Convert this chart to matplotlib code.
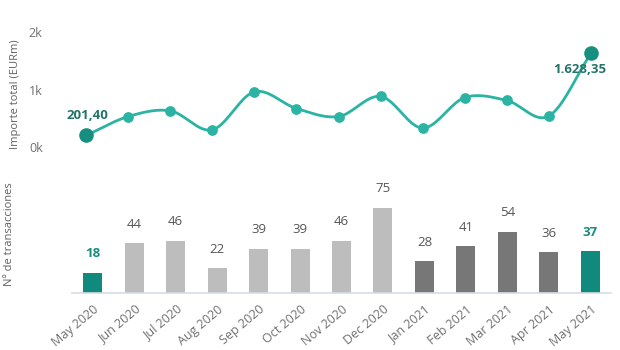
import numpy as np
import matplotlib
matplotlib.use("Agg")
from matplotlib import pyplot as plt

plt.rcParams["font.family"] = ["Open Sans", "DejaVu Sans"]

meses = ["May 2020", "Jun 2020", "Jul 2020", "Aug 2020", "Sep 2020", "Oct 2020",
         "Nov 2020", "Dec 2020", "Jan 2021", "Feb 2021", "Mar 2021", "Apr 2021", "May 2021"]
importe = [201.40, 530, 630, 300, 960, 670, 530, 880, 330, 860, 810, 540, 1628.35]
transacciones = [18, 44, 46, 22, 39, 39, 46, 75, 28, 41, 54, 36, 37]
colores_barras = ["#118a7e"] + ["#bdbdbd"] * 7 + ["#777777"] * 4 + ["#118a7e"]

TEAL = "#2bb3a3"
TEAL_OSC = "#168f80"
GRIS = "#707070"


def suavizar(x, y, n=20):  # catmull-rom para que la linea quede curva
    x = np.asarray(x, float)
    y = np.asarray(y, float)
    px = np.concatenate([[2 * x[0] - x[1]], x, [2 * x[-1] - x[-2]]])
    py = np.concatenate([[2 * y[0] - y[1]], y, [2 * y[-1] - y[-2]]])
    xs, ys = [], []
    t = np.linspace(0, 1, n)
    for i in range(1, len(px) - 2):
        for p, out in ((px, xs), (py, ys)):
            p0, p1, p2, p3 = p[i - 1], p[i], p[i + 1], p[i + 2]
            out.extend(0.5 * ((2 * p1) + (-p0 + p2) * t + (2 * p0 - 5 * p1 + 4 * p2 - p3) * t ** 2
                              + (-p0 + 3 * p1 - 3 * p2 + p3) * t ** 3))
    return np.array(xs), np.array(ys)


fig = plt.figure(figsize=(6.2, 3.5), dpi=100)

# linea superior
ax1 = fig.add_axes([65 / 620, 0.557, 547 / 620, 0.386])
idx = np.arange(len(meses))
sx, sy = suavizar(idx, importe)
ax1.plot(sx, sy, color=TEAL, lw=2, zorder=2)
ax1.scatter(idx[1:-1], importe[1:-1], s=45, color=TEAL, zorder=3)
ax1.scatter([idx[0], idx[-1]], [importe[0], importe[-1]], s=90, color=TEAL_OSC, zorder=4)
ax1.set_xlim(-0.5, len(meses) - 0.5)
ax1.set_ylim(-139, 2209)
ax1.set_yticks([0, 1000, 2000])
ax1.set_yticklabels(["0k", "1k", "2k"])
ax1.set_xticks([])
for s in ax1.spines.values():
    s.set_visible(False)
ax1.tick_params(axis="y", length=0, labelsize=9, labelcolor=GRIS, pad=16)
ax1.set_ylabel("Importe total (EURm)", fontsize=8, color="#606060")
ax1.annotate("201,40", (idx[0], importe[0]), xytext=(-14, 10), textcoords="offset points",
             fontsize=9.5, fontweight="bold", color="#23756c", ha="left", va="bottom")
ax1.annotate("1.628,35", (idx[-1], importe[-1]), xytext=(-27, -7), textcoords="offset points",
             fontsize=9.5, fontweight="bold", color="#23756c", ha="left", va="top")

# barras inferiores
ax2 = fig.add_axes([72 / 620, 57 / 350, 539 / 620, 118 / 350])
barras = ax2.bar(idx, transacciones, width=0.46, color=colores_barras, zorder=2)
ax2.set_xlim(-0.5, len(meses) - 0.5)
ax2.set_ylim(0, 104)
for i, (b, v) in enumerate(zip(barras, transacciones)):
    destacado = i == 0 or i == len(meses) - 1
    ax2.text(b.get_x() + b.get_width() / 2, v + 11, str(v), ha="center", va="bottom",
             fontsize=9.5, color=TEAL_OSC if destacado else "#555555",
             fontweight="bold" if destacado else "normal")
for s in ["top", "right", "left"]:
    ax2.spines[s].set_visible(False)
ax2.spines["bottom"].set_color("#d5dde3")
ax2.spines["bottom"].set_linewidth(1.2)
ax2.set_yticks([])
ax2.set_xticks(idx)
ax2.set_xticklabels(meses, rotation=40, ha="right", rotation_mode="anchor")
ax2.tick_params(axis="x", length=0, labelsize=9, labelcolor=GRIS, pad=7)
ax2.set_ylabel("Nº de transacciones", fontsize=8, color="#606060")
ax2.yaxis.set_label_coords(-0.105, 0.5)
ax1.yaxis.set_label_coords(-0.08, 0.45)

fig.savefig("out.png", dpi=100)
